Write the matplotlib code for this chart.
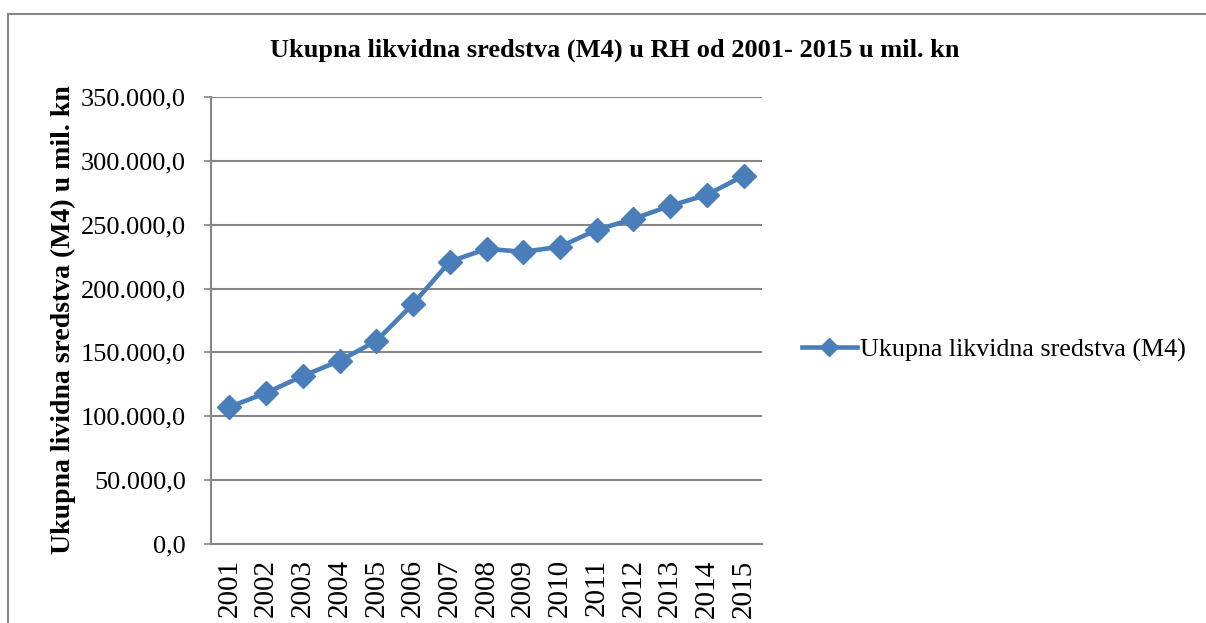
import matplotlib
matplotlib.use("Agg")
import matplotlib.pyplot as plt
from matplotlib.patches import Rectangle
from matplotlib.ticker import FuncFormatter

years = ["2001", "2002", "2003", "2004", "2005", "2006", "2007", "2008",
         "2009", "2010", "2011", "2012", "2013", "2014", "2015"]
m4 = [107300, 118300, 131600, 143400, 159000, 188000, 221000, 231100,
      228800, 232700, 246000, 254600, 264800, 273400, 288300]

title = "Ukupna likvidna sredstva (M4) u RH od 2001- 2015 u mil. kn"
ylabel = "Ukupna lividna sredstva (M4) u mil. kn"
series_name = "Ukupna likvidna sredstva (M4)"

plt.rcParams['font.family'] = ['Liberation Serif', 'DejaVu Serif']

W, H = 1206, 623
fig = plt.figure(figsize=(W / 100, H / 100), dpi=100)

# outer chart border (cut off at right/bottom like the reference)
fig.patches.append(Rectangle((8 / W, -0.05), 1.2, 1 - 14 / H + 0.05,
                             transform=fig.transFigure, fill=False,
                             edgecolor="#868686", linewidth=1.5))

ax = fig.add_axes([211 / W, 1 - 544 / H, (762 - 211) / W, (544 - 97) / H])
color = "#4A7EBB"
x = list(range(len(years)))
line, = ax.plot(x, m4, color=color, linewidth=3.3, marker="D",
                markersize=12, markerfacecolor=color, markeredgecolor=color,
                label=series_name, clip_on=False, zorder=3)

ax.set_xlim(-0.5, len(years) - 0.5)
ax.set_ylim(0, 350000)
ax.set_yticks(range(0, 350001, 50000))
ax.yaxis.set_major_formatter(FuncFormatter(
    lambda v, p: f"{v:,.1f}".replace(",", "X").replace(".", ",").replace("X", ".")))
ax.set_xticks(x)
ax.set_xticklabels(years, rotation=90, fontsize=21)
ax.tick_params(axis="y", labelsize=19, length=5, color="#868686", width=1.2, pad=13)
ax.tick_params(axis="x", length=0, pad=11)
ax.grid(axis="y", color="#868686", linewidth=1.5)
ax.set_axisbelow(True)
for s in ["top", "right"]:
    ax.spines[s].set_visible(False)
for s in ["left", "bottom"]:
    ax.spines[s].set_color("#868686")
    ax.spines[s].set_linewidth(1.5)

fig.text(63 / W, 1 - 320 / H, ylabel, fontsize=20, fontweight="bold",
         rotation=90, ha="center", va="center")
fig.text(615 / W, 1 - 50 / H, title, fontsize=19, fontweight="bold",
         ha="center", va="center")

leg = fig.legend(handles=[line], loc="center left",
                 bbox_to_anchor=(802 / W, 1 - 350 / H), frameon=False,
                 fontsize=18.7, handlelength=2.1, handletextpad=0.15,
                 markerscale=0.8, borderaxespad=0, borderpad=0)

fig.savefig("out.png", dpi=100)
